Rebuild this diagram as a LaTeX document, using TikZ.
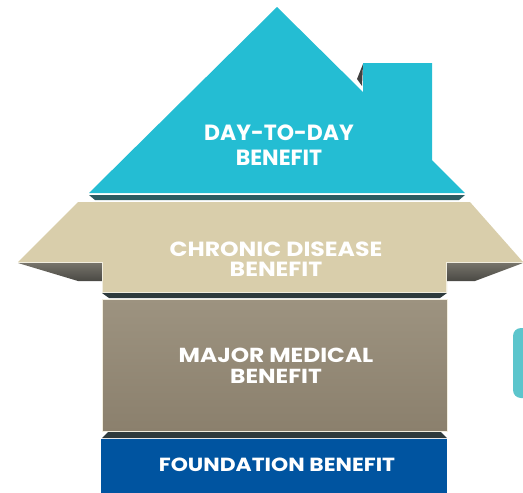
\documentclass[tikz,border=0pt]{standalone}
\usepackage{fontspec}
\setmainfont{Poppins}
\newfontfamily\widefont[FakeStretch=1.15]{Poppins}
\definecolor{roofcyan}{HTML}{24BDD3}
\definecolor{roofdark}{HTML}{2C5C62}
\definecolor{bandbeige}{HTML}{D9CEAB}
\definecolor{wingdark}{HTML}{4A4944}
\definecolor{winglight}{HTML}{76736A}
\definecolor{majortop}{HTML}{9D9380}
\definecolor{majorbottom}{HTML}{8B806D}
\definecolor{basedark}{HTML}{2E3A3D}
\definecolor{foundblue}{HTML}{0054A0}
\definecolor{sidecyan}{HTML}{5CC5CC}
\definecolor{edgecream}{HTML}{F2EEDF}
\begin{document}
\begin{tikzpicture}[x=1pt, y=-1pt,
    benefit/.style={text=white, align=center, inner sep=0pt},
    bevel/.style={fill=basedark, draw=none}]
    \clip (0,0) rectangle (523,493);

    % roof with chimney
    \fill[roofcyan] (89,193) -- (277,7) -- (363,92) -- (363,63) -- (432,63) -- (432,160) -- (465,193) -- cycle;
    \fill[black!75] (363,64) -- (357,79) -- (362,86) -- cycle;
    \draw[white, line width=0.8] (89,194) -- (465,194);
    \fill[roofdark] (89,195) -- (465,195) -- (459,200) -- (95,200) -- cycle;

    % chronic disease band
    \fill[bandbeige] (78,202) -- (470,202) -- (523,262) -- (447,262) -- (447,292) -- (102,292) -- (102,262) -- (18,262) -- cycle;
    \shade[top color=winglight, bottom color=wingdark] (18,263) -- (102,263) -- (102,281) -- (78,281) -- cycle;
    \shade[top color=winglight, bottom color=wingdark] (447,263) -- (523,263) -- (475,281) -- (447,281) -- cycle;
    \draw[edgecream, line width=0.8] (18,262.5) -- (102.5,262.5) -- (102.5,292.5) -- (446.5,292.5) -- (446.5,262.5) -- (523,262.5);
    \fill[bevel] (102,293) -- (447,293) -- (440,298) -- (109,298) -- cycle;

    % major medical block
    \shade[top color=majortop, bottom color=majorbottom, draw=edgecream, line width=0.8] (102,299) rectangle (447,431);
    \fill[bevel] (108,432) -- (441,432) -- (447,438) -- (102,438) -- cycle;

    % foundation block
    \fill[foundblue] (101,439) rectangle (447,493);

    % side tab
    \fill[sidecyan, rounded corners=8] (513,328) rectangle (545,398);

    % labels
    \node[benefit, font=\bfseries\fontsize{22}{25}\selectfont] (daytoday) at (279,145) {DAY-TO-DAY\\BENEFIT};
    \node[benefit, font=\widefont\bfseries\fontsize{20.5}{20}\selectfont] (chronic) at (276,259.5) {CHRONIC DISEASE\\BENEFIT};
    \node[benefit, font=\widefont\bfseries\fontsize{20.3}{21}\selectfont] (major) at (276,366) {MAJOR MEDICAL\\BENEFIT};
    \node[benefit, font=\widefont\bfseries\fontsize{19}{21}\selectfont] (foundation) at (277,465) {FOUNDATION BENEFIT};
\end{tikzpicture}
\end{document}
